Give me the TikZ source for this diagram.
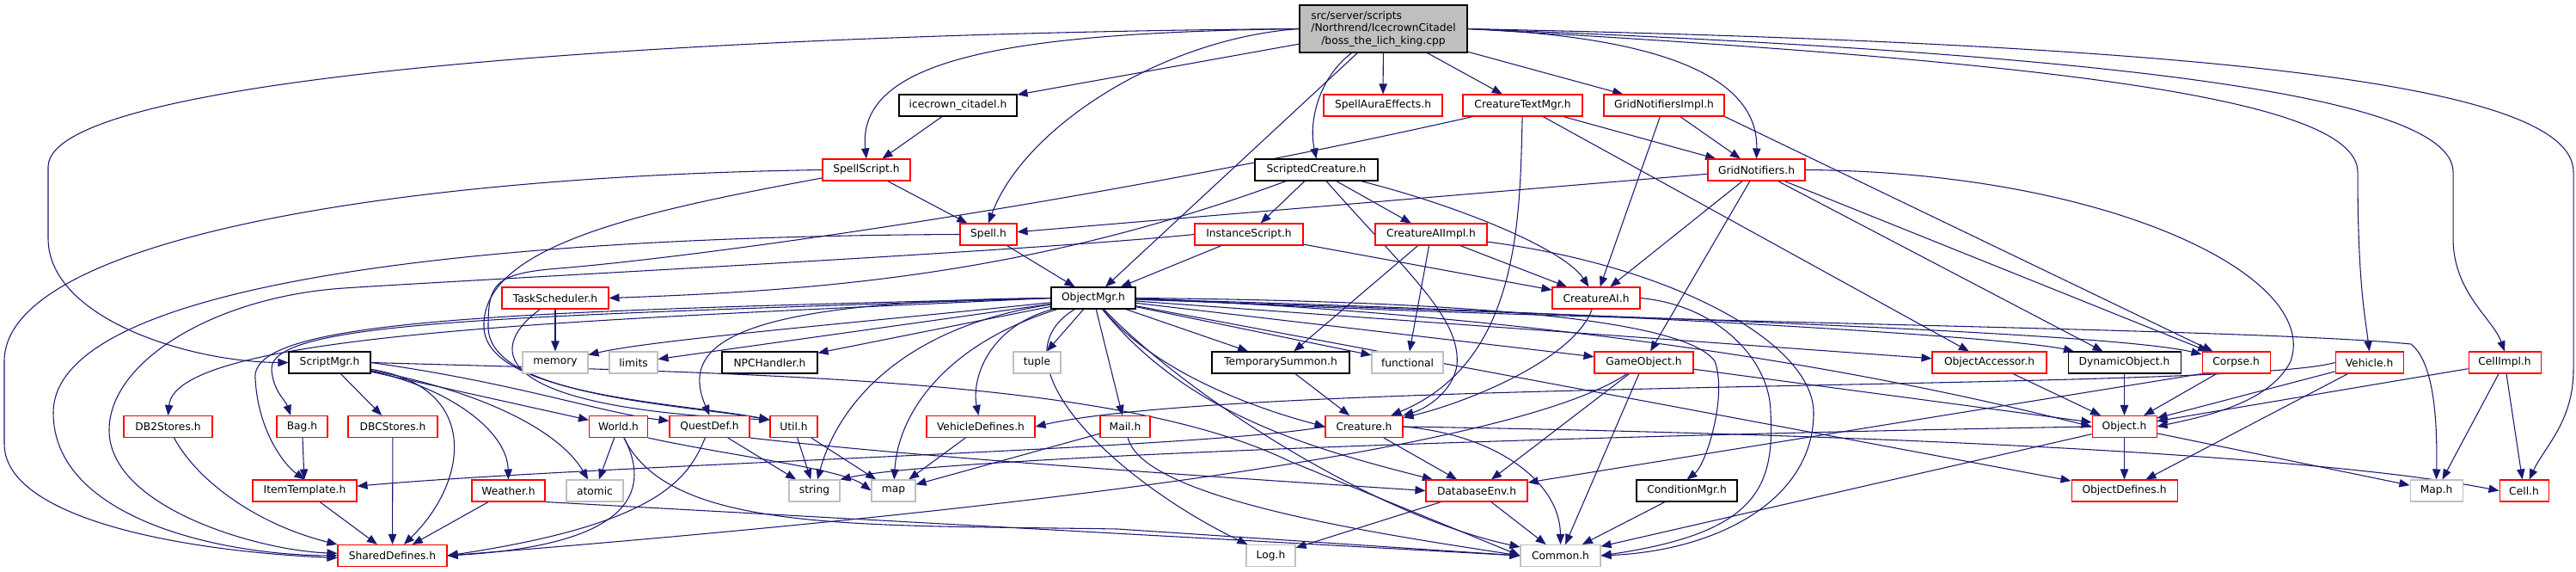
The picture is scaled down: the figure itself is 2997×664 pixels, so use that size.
\documentclass[tikz,border=0pt]{standalone}
\usepackage{fontspec}
\setmainfont{DejaVu Sans}
\usetikzlibrary{arrows.meta}
\definecolor{edgeblue}{HTML}{191970}
\definecolor{grayline}{HTML}{BFBFBF}
\definecolor{redline}{HTML}{FF0000}
\definecolor{rootfill}{HTML}{BFBFBF}
\newlength\rootw
\newcommand\mk[6]{\node[#2,minimum width=#5*0.75pt] (#1) at (#3,#4) {#6};}
\pgfdeclarelayer{bg}
\pgfsetlayers{bg,main}
\tikzset{
  nd/.style={draw, line width=0.8pt, fill=white, inner sep=0pt, minimum height=18.75pt, font=\fontsize{9.2}{11}\selectfont},
  rd/.style={nd, draw=redline},
  bk/.style={nd, draw=black},
  gy/.style={nd, draw=grayline},
  edg/.style={draw=edgeblue, line width=0.8pt, -{Triangle[length=9pt,width=7pt]}},
}
\begin{document}
\settowidth{\rootw}{\fontsize{9.2}{11}\selectfont /Northrend/IcecrownCitadel}%
\begin{tikzpicture}[x=0.75pt,y=-0.75pt]
\useasboundingbox (0,0) rectangle (2997,664);
\node[draw=black, fill=rootfill, line width=0.8pt, inner sep=0pt, minimum width=146.25pt, minimum height=41.25pt, align=center, font=\fontsize{9.2}{11}\selectfont] (root) at (1609.5,33.5) {\makebox[\rootw][l]{src/server/scripts}\\/Northrend/IcecrownCitadel\\/boss\_the\_lich\_king.cpp};
\mk{icc}{bk}{1114.5}{122.5}{137}{icecrown\_citadel.h}
\mk{saura}{rd}{1609}{122.5}{138}{SpellAuraEffects.h}
\mk{ctm}{rd}{1771.5}{122.5}{139}{CreatureTextMgr.h}
\mk{gni}{rd}{1936}{122.5}{140}{GridNotifiersImpl.h}
\mk{sscript}{rd}{1008}{197.5}{102}{SpellScript.h}
\mk{scr}{bk}{1531.5}{197.5}{143}{ScriptedCreature.h}
\mk{gn}{rd}{2043.5}{197.5}{113}{GridNotifiers.h}
\mk{spell}{rd}{1150}{272.5}{66}{Spell.h}
\mk{inst}{rd}{1453}{272.5}{126}{InstanceScript.h}
\mk{caii}{rd}{1665}{272.5}{130}{CreatureAIImpl.h}
\mk{task}{rd}{646}{346.5}{124}{TaskScheduler.h}
\mk{omgr}{bk}{1272}{346.5}{98}{ObjectMgr.h}
\mk{cai}{rd}{1857}{346.5}{102}{CreatureAI.h}
\mk{smgr}{bk}{383.5}{421.5}{95}{ScriptMgr.h}
\mk{memory}{gy}{646}{421.5}{76}{memory}
\mk{limits}{gy}{737}{421.5}{56}{limits}
\mk{npch}{bk}{895.5}{421.5}{111}{NPCHandler.h}
\mk{tuple}{gy}{1206.5}{421.5}{55}{tuple}
\mk{tsum}{bk}{1490}{421.5}{160}{TemporarySummon.h}
\mk{functional}{gy}{1637.5}{421.5}{83}{functional}
\mk{gobj}{rd}{1912.5}{421.5}{115}{GameObject.h}
\mk{oacc}{rd}{2314.5}{421.5}{133}{ObjectAccessor.h}
\mk{dynobj}{bk}{2471.5}{421.5}{131}{DynamicObject.h}
\mk{corpse}{rd}{2601.5}{421.5}{79}{Corpse.h}
\mk{vehicle}{rd}{2756.5}{421.5}{79}{Vehicle.h}
\mk{cellimpl}{rd}{2914}{421.5}{84}{CellImpl.h}
\mk{db2}{rd}{195.5}{496}{103}{DB2Stores.h}
\mk{bag}{rd}{351.5}{496}{59}{Bag.h}
\mk{dbc}{rd}{457}{496}{104}{DBCStores.h}
\mk{world}{rd}{719.5}{496}{68}{World.h}
\mk{quest}{rd}{825.5}{496}{93}{QuestDef.h}
\mk{util}{rd}{923.5}{496}{55}{Util.h}
\mk{vdef}{rd}{1141}{496}{126}{VehicleDefines.h}
\mk{mail}{rd}{1309}{496}{58}{Mail.h}
\mk{creature}{rd}{1587}{496}{90}{Creature.h}
\mk{object}{rd}{2471.5}{496}{75}{Object.h}
\mk{itemt}{rd}{354.5}{570.5}{121}{ItemTemplate.h}
\mk{weather}{rd}{591.5}{570.5}{85}{Weather.h}
\mk{atomic}{gy}{692}{570.5}{66}{atomic}
\mk{string}{gy}{947.5}{570.5}{59}{string}
\mk{map}{gy}{1039.5}{570.5}{51}{map}
\mk{dbenv}{rd}{1718}{570.5}{118}{DatabaseEnv.h}
\mk{condmgr}{bk}{1962.5}{570.5}{117}{ConditionMgr.h}
\mk{odef}{rd}{2471.5}{570.5}{123}{ObjectDefines.h}
\mk{maph}{gy}{2834.5}{570.5}{61}{Map.h}
\mk{cell}{rd}{2936.5}{570.5}{57}{Cell.h}
\mk{shared}{rd}{456.5}{646}{127}{SharedDefines.h}
\mk{log}{gy}{1478.5}{646}{57}{Log.h}
\mk{common}{gy}{1815.5}{646}{93}{Common.h}
\begin{pgfonlayer}{bg}
% root
\draw[edg] (root.west) .. controls (900,38) and (56,80) .. (56,194) -- (56,277) .. controls (56,370) and (220,421) .. (smgr.west);
\draw[edg] (root) -- (icc);
\draw[edg] (root.west) .. controls (1200,38) and (995,62) .. (sscript.north);
\draw[edg] (root.west) .. controls (1350,45) and (1190,150) .. (spell.north);
\draw[edg] (root) -- (omgr);
\draw[edg] (root) .. controls (1535,90) and (1522,140) .. (scr.north);
\draw[edg] (root) -- (saura);
\draw[edg] (root) -- (ctm);
\draw[edg] (root) -- (gni);
\draw[edg] (root.east) .. controls (1920,42) and (2046,85) .. (gn.north);
\draw[edg] (root.east) .. controls (2350,70) and (2743,110) .. (2743,200) .. controls (2743,330) and (2752,370) .. (vehicle.north);
\draw[edg] (root.east) .. controls (2450,62) and (2854,110) .. (2854,200) -- (2854,277) .. controls (2854,340) and (2900,370) .. (cellimpl.north);
\draw[edg] (root.east) .. controls (2600,52) and (2994,100) .. (2994,200) -- (2994,430) .. controls (2994,490) and (2960,520) .. (cell);
% icecrown / spellscript
\draw[edg] (icc) -- (sscript);
\draw[edg] (sscript) -- (spell);
\draw[edg] (sscript.west) .. controls (450,205) and (5,280) .. (5,420) -- (5,516) .. controls (5,600) and (200,640) .. ([yshift=-2pt]shared.west);
\draw[edg] (sscript) .. controls (750,245) and (560,285) .. (563,380) .. controls (565,460) and (790,468) .. ([yshift=6pt]util.west);
% spell
\draw[edg] (spell) -- (omgr);
\draw[edg] (spell.west) .. controls (550,275) and (62,330) .. (62,480) .. controls (62,600) and (250,645) .. (shared.west);
% instance
\draw[edg] (inst) -- (omgr);
\draw[edg] (inst) -- (cai);
\draw[edg] (inst.west) .. controls (1200,292) and (550,325) .. (400,335) .. controls (250,345) and (127,420) .. (127,500) .. controls (127,590) and (300,640) .. ([yshift=2pt]shared.west);
% scripted creature
\draw[edg] (scr) -- (inst);
\draw[edg] (scr) -- (caii);
\draw[edg] (scr) .. controls (1700,240) and (1820,290) .. (cai);
\draw[edg] (scr) .. controls (1640,320) and (1700,370) .. (1695,425) .. controls (1690,455) and (1660,475) .. (creature);
\draw[edg] (scr) .. controls (1200,320) and (950,338) .. (task.east);
% creature text mgr
\draw[edg] (ctm) .. controls (1250,240) and (800,300) .. (650,312) .. controls (575,318) and (568,330) .. (568,380) .. controls (568,460) and (790,470) .. ([yshift=6pt]util.west);
\draw[edg] (ctm) .. controls (1768,250) and (1770,420) .. (creature);
\draw[edg] (ctm) -- (gn);
\draw[edg] (ctm) -- (oacc);
% grid notifiers impl
\draw[edg] (gni) -- (gn);
\draw[edg] (gni) -- (cai);
\draw[edg] (gni.south east) -- (corpse);
% grid notifiers
\draw[edg] (gn) -- (spell);
\draw[edg] (gn) -- (cai);
\draw[edg] (gn) -- (gobj);
\draw[edg] (gn) -- (dynobj);
\draw[edg] (gn) -- (corpse);
\draw[edg] (gn.east) .. controls (2450,200) and (2700,320) .. (2665,420) .. controls (2640,470) and (2560,485) .. (object.east);
% creature ai impl
\draw[edg] (caii) -- (cai);
\draw[edg] (caii) -- (tsum);
\draw[edg] (caii) -- (functional);
\draw[edg] (caii) .. controls (1950,310) and (2110,400) .. (2110,480) .. controls (2110,580) and (2000,640) .. (common.east);
% task scheduler
\draw[edg] (task) -- (memory);
\draw[edg] (task) .. controls (560,410) and (580,475) .. ([yshift=6pt]util.west);
% object mgr
\draw[edg] (omgr) .. controls (1000,375) and (760,395) .. (memory);
\draw[edg] (omgr) -- (limits);
\draw[edg] (omgr) -- (npch);
\draw[edg] (omgr) -- (tuple);
\draw[edg] (omgr) -- (tsum);
\draw[edg] (omgr) -- (functional);
\draw[edg] (omgr) -- (gobj);
\draw[edg] (omgr) -- (oacc);
\draw[edg] (omgr) .. controls (1800,360) and (2330,390) .. (dynobj);
\draw[edg] (omgr) .. controls (1800,365) and (2450,385) .. (corpse);
\draw[edg] (omgr.east) .. controls (1900,372) and (2250,450) .. (object.west);
\draw[edg] (omgr) -- (odef);
\draw[edg] (omgr.east) .. controls (1800,375) and (2600,380) .. (2805,400) .. controls (2830,420) and (2836,480) .. (maph.north);
\draw[edg] (omgr) .. controls (1350,440) and (1480,480) .. (creature.west);
\draw[edg] (omgr) .. controls (1380,480) and (1520,520) .. (dbenv);
\draw[edg] (omgr) .. controls (1380,460) and (1600,600) .. (common);
\draw[edg] (omgr.east) .. controls (1700,350) and (1960,370) .. (1995,420) .. controls (2010,460) and (1985,540) .. (condmgr.north);
\draw[edg] (omgr) .. controls (1150,420) and (1300,560) .. (log);
\draw[edg] (omgr) -- (mail);
\draw[edg] (omgr) .. controls (1150,380) and (1130,440) .. (vdef);
\draw[edg] (omgr) .. controls (1100,400) and (1045,480) .. (map);
\draw[edg] (omgr) .. controls (1050,380) and (975,470) .. (string);
\draw[edg] (omgr.west) .. controls (850,350) and (790,400) .. (quest.north);
\draw[edg] (omgr.west) .. controls (600,362) and (290,370) .. (297,440) .. controls (300,500) and (330,540) .. (itemt.north);
\draw[edg] (omgr.west) .. controls (600,368) and (312,372) .. (316,430) .. controls (318,455) and (332,465) .. ([xshift=-10pt]bag.north);
\draw[edg] (omgr.west) .. controls (700,372) and (205,385) .. (db2.north);
% creature
\draw[edg] (creature.west) .. controls (1400,522) and (700,540) .. ([yshift=4pt]itemt.east);
\draw[edg] (creature) -- (dbenv);
\draw[edg] (creature.east) .. controls (1740,505) and (1815,560) .. (common.north);
\draw[edg] (creature.east) .. controls (2200,505) and (2700,530) .. (cell.west);
% creature ai
\draw[edg] (cai) .. controls (1830,420) and (1700,470) .. (creature);
\draw[edg] (cai.east) .. controls (2000,355) and (2060,420) .. (2060,480) .. controls (2065,570) and (2040,620) .. (common.east);
% temporary summon, game object
\draw[edg] (tsum) -- (creature);
\draw[edg] (gobj) -- (object);
\draw[edg] (gobj) -- (dbenv);
\draw[edg] (gobj) -- (common);
\draw[edg] (gobj) .. controls (1750,530) and (1100,600) .. (shared.east);
% object
\draw[edg] (object) -- (odef);
\draw[edg] (object) -- (maph);
\draw[edg] (object) -- (common);
\draw[edg] (object.west) .. controls (1900,505) and (1100,530) .. (string.north east);
% vehicle, cellimpl, corpse, dynobj, accessor
\draw[edg] (vehicle) -- (object);
\draw[edg] (vehicle) -- (odef);
\draw[edg] (vehicle.west) .. controls (2600,455) and (1450,440) .. (vdef.east);
\draw[edg] (cellimpl) -- (object);
\draw[edg] (cellimpl) -- (maph);
\draw[edg] (cellimpl) -- (cell);
\draw[edg] (corpse) -- (object);
\draw[edg] (corpse.south west) -- (dbenv);
\draw[edg] (dynobj) -- (object);
\draw[edg] (oacc) -- (object);
% lower rows
\draw[edg] (dbenv) -- (log);
\draw[edg] (dbenv) -- (common);
\draw[edg] (condmgr) -- (common);
\draw[edg] (quest) -- (string);
\draw[edg] (quest.south east) .. controls (1100,535) and (1500,560) .. (dbenv.west);
\draw[edg] (quest) .. controls (800,560) and (760,610) .. (shared.east);
\draw[edg] (util) -- (string);
\draw[edg] (util) -- (map);
\draw[edg] (vdef) -- (map);
\draw[edg] (mail) -- (map);
\draw[edg] (mail) .. controls (1330,580) and (1600,620) .. (common.west);
\draw[edg] (world) -- (atomic);
\draw[edg] (world) .. controls (765,585) and (710,635) .. (shared.east);
\draw[edg] (world.south east) .. controls (850,530) and (980,545) .. (map.west);
\draw[edg] (world) .. controls (780,620) and (1000,610) .. (1300,615) -- (common.west);
% script mgr
\draw[edg] (smgr) -- (dbc);
\draw[edg] (smgr) -- (world);
\draw[edg] (smgr.east) .. controls (600,445) and (700,480) .. ([yshift=5pt]quest.west);
\draw[edg] (smgr) .. controls (520,450) and (590,500) .. (weather.north);
\draw[edg] (smgr) .. controls (560,455) and (650,500) .. (atomic);
\draw[edg] (smgr) .. controls (560,450) and (545,560) .. (shared);
\draw[edg] (smgr.east) .. controls (900,435) and (1300,440) .. (1500,536) -- (common.west);
% bottom-left
\draw[edg] (weather) -- (shared);
\draw[edg] (weather.south east) -- (common.west);
\draw[edg] (db2) .. controls (230,560) and (300,610) .. (shared.north west);
\draw[edg] (bag) -- (itemt);
\draw[edg] (dbc) -- (shared);
\draw[edg] (itemt) -- (shared);
\end{pgfonlayer}
\end{tikzpicture}
\end{document}
